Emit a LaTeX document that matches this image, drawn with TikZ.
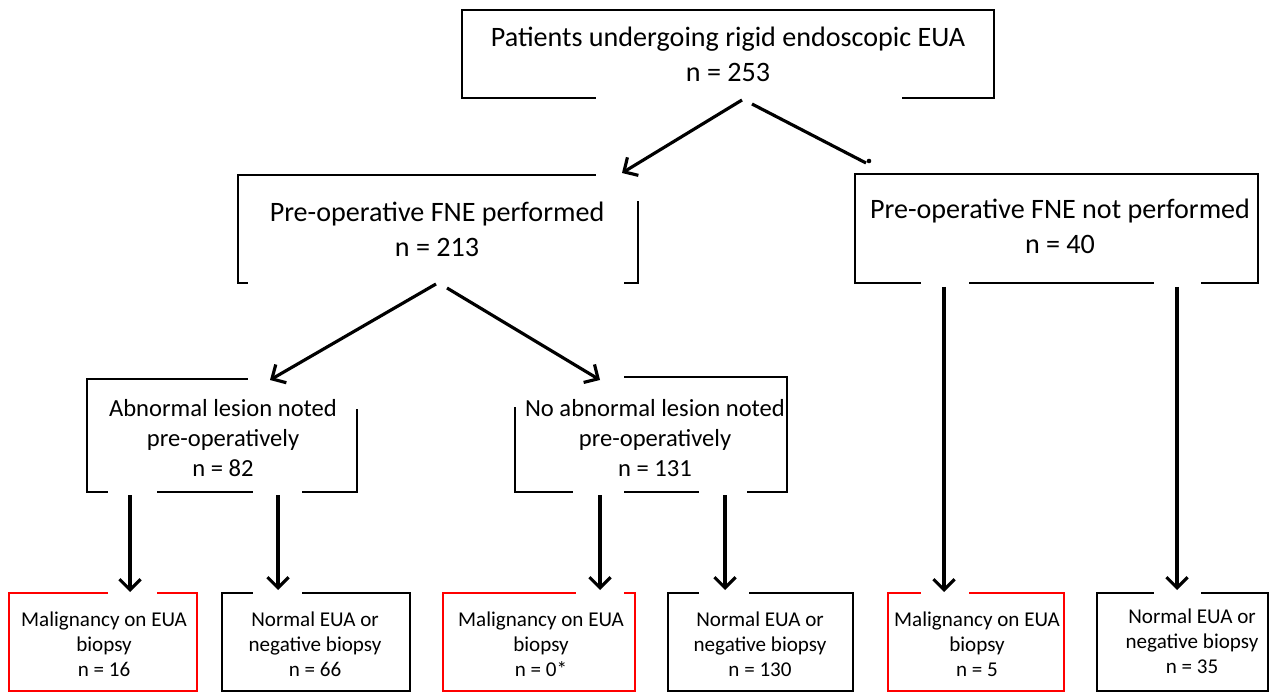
\documentclass[tikz,border=0pt]{standalone}
\usepackage{fontspec}
\setmainfont{Carlito}
\usetikzlibrary{arrows.meta}

\begin{document}
\begin{tikzpicture}
[
	x=0.02cm, y=-0.02cm,
	boxline/.style={line width=1.6pt, line cap=rect},
	redline/.style={boxline, red},
	arr/.style={line width=1.8pt, -{Straight Barb[length=6pt,width=12pt]}},
	bigtxt/.style={align=center, font=\fontsize{16}{20}\selectfont},
	midtxt/.style={align=center, font=\fontsize{14}{17}\selectfont},
	smalltxt/.style={align=center, font=\fontsize{12}{14.2}\selectfont}
]

	\useasboundingbox (0,0) rectangle (1274,695);

	% texts
	\node[bigtxt] (top) at (728,54) {Patients undergoing rigid endoscopic EUA\\n = 253};
	\node[bigtxt] (fne) at (437,229) {Pre-operative FNE performed\\n = 213};
	\node[bigtxt] (nofne) at (1060,226) {Pre-operative FNE not performed\\n = 40};
	\node[midtxt] (abn) at (223,438) {Abnormal lesion noted\\pre-operatively\\n = 82};
	\node[midtxt] (noabn) at (655,438) {No abnormal lesion noted\\pre-operatively\\n = 131};
	\node[smalltxt] (malA) at (104,644) {Malignancy on EUA\\biopsy\\n = 16};
	\node[smalltxt] (normA) at (315,644) {Normal EUA or\\negative biopsy\\n = 66};
	\node[smalltxt] (malB) at (541,644) {Malignancy on EUA\\biopsy\\n = 0*};
	\node[smalltxt] (normB) at (760,644) {Normal EUA or\\negative biopsy\\n = 130};
	\node[smalltxt] (malC) at (977,644) {Malignancy on EUA\\biopsy\\n = 5};
	\node[smalltxt] (normC) at (1192,641) {Normal EUA or\\negative biopsy\\n = 35};

	% box outlines (broken where the arrows come in)
	\draw[boxline] (595,98) -- (462,98) -- (462,10) -- (994,10) -- (994,98) -- (903,98);
	\draw[boxline] (595,175) -- (238,175) -- (238,283) -- (247,283);
	\draw[boxline] (625,283) -- (638,283) -- (638,202);
	\draw[boxline] (920,283) -- (855,283) -- (855,174) -- (1258,174) -- (1258,283) -- (1202,283);
	\draw[boxline] (970,283) -- (1153,283);
	\draw[boxline] (247,379) -- (87,379) -- (87,492) -- (107,492);
	\draw[boxline] (158,492) -- (252,492);
	\draw[boxline] (303,492) -- (357,492) -- (357,410);
	\draw[boxline] (625,377) -- (787,377) -- (787,492) -- (748,492);
	\draw[boxline] (698,492) -- (625,492);
	\draw[boxline] (572,492) -- (515,492) -- (515,408);
	\draw[redline] (107,593) -- (9,593) -- (9,691) -- (197,691) -- (197,593) -- (158,593);
	\draw[boxline] (252,593) -- (222,593) -- (222,691) -- (410,691) -- (410,593) -- (303,593);
	\draw[redline] (575,593) -- (443,593) -- (443,691) -- (635,691) -- (635,593) -- (625,593);
	\draw[boxline] (698,593) -- (668,593) -- (668,691) -- (853,691) -- (853,593) -- (750,593);
	\draw[redline] (920,593) -- (888,593) -- (888,691) -- (1064,691) -- (1064,593) -- (970,593);
	\draw[boxline] (1153,593) -- (1097,593) -- (1097,691) -- (1268,691) -- (1268,593) -- (1202,593);

	% arrow ends
	\coordinate (top-l) at (742,100);
	\coordinate (top-r) at (752,104);
	\coordinate (fne-in) at (622,173);
	\coordinate (nofne-in) at (866,163);
	\coordinate (fne-l) at (436,284);
	\coordinate (fne-r) at (447,288);
	\coordinate (abn-in) at (270,380);
	\coordinate (noabn-in) at (600,380);
	\coordinate (nofne-l) at (944,287);
	\coordinate (nofne-r) at (1177,287);
	\coordinate (abn-l) at (130,495);
	\coordinate (abn-r) at (278,495);
	\coordinate (noabn-l) at (600,495);
	\coordinate (noabn-r) at (725,495);
	\coordinate (malA-in) at (130,592);
	\coordinate (normA-in) at (278,590);
	\coordinate (malB-in) at (600,590);
	\coordinate (normB-in) at (725,590);
	\coordinate (malC-in) at (944,592);
	\coordinate (normC-in) at (1177,590);

	% arrows
	\draw[arr] (top-l) -- (fne-in);
	\draw[line width=1.8pt] (top-r) -- (nofne-in);
	\fill (869,161) circle (1.3pt);
	\draw[arr] (fne-l) -- (abn-in);
	\draw[arr] (fne-r) -- (noabn-in);
	\draw[arr] (nofne-l) -- (malC-in);
	\draw[arr] (nofne-r) -- (normC-in);
	\draw[arr] (abn-l) -- (malA-in);
	\draw[arr] (abn-r) -- (normA-in);
	\draw[arr] (noabn-l) -- (malB-in);
	\draw[arr] (noabn-r) -- (normB-in);

\end{tikzpicture}
\end{document}
